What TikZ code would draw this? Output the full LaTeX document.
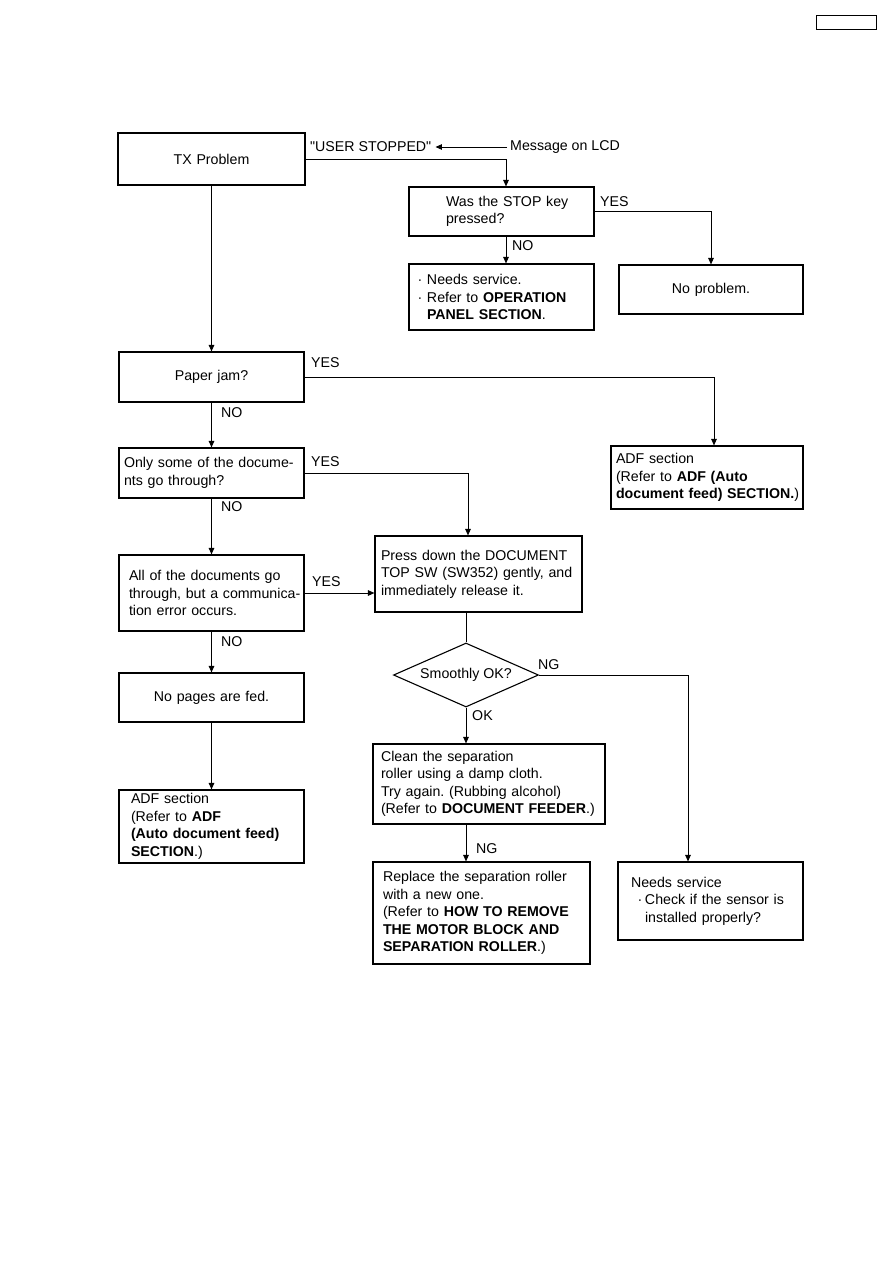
\documentclass[tikz,border=0pt]{standalone}
\usepackage{fontspec}
\setmainfont{Liberation Sans}
\usetikzlibrary{arrows.meta,shapes.geometric}
\frenchspacing
\begin{document}
\begin{tikzpicture}[x=1pt,y=-1pt,
  font=\fontsize{14.2}{17.5}\selectfont,
  box/.style={draw,line width=1.1pt,inner xsep=0pt,inner ysep=0pt,align=left},
  cbox/.style={box,align=center},
  conn/.style={line width=1pt},
  arr/.style={conn,-{Triangle[length=6.5pt,width=5.5pt]}},
  lbl/.style={anchor=west,inner sep=0pt}]
\useasboundingbox (0,0) rectangle (893,1263);

% tag box top right
\node[draw,line width=1pt,minimum width=60pt,minimum height=14pt,inner sep=0pt] (tag) at (846,23) {};

% boxes
\node[cbox,text width=187pt,minimum height=52pt] (tx) at (211.5,159) {TX Problem};
\node[lbl] (usr) at (310,147) {\textquotedbl USER STOPPED\textquotedbl};
\node[lbl] (msg) at (510,147) {Message on LCD};
\node[box,text width=185pt,minimum height=49pt] (stop) at (501.5,211.5)
  {\leftskip=37pt Was the STOP key\\pressed?\par};
\node[box,text width=185pt,minimum height=66pt] (ns1) at (501.5,297)
  {\leftskip=4pt \makebox[14pt][c]{·}Needs service.\\\makebox[14pt][c]{·}Refer to \textbf{OPERATION}\\\hspace*{14pt}\textbf{PANEL SECTION}.\par};
\node[cbox,text width=184pt,minimum height=49pt] (noprob) at (711,289.5) {No problem.};
\node[cbox,text width=185pt,minimum height=50pt] (pj) at (211.5,377) {Paper jam?};
\node[box,text width=192pt,minimum height=63pt] (adf1) at (707,477.5)
  {\leftskip=5pt ADF section\\(Refer to \textbf{ADF (Auto}\\\textbf{document feed) SECTION.})\par};
\node[box,text width=185pt,minimum height=50pt] (some) at (211.5,473)
  {\leftskip=5pt Only some of the docume-\\nts go through?\par};
\node[box,text width=185pt,minimum height=76pt] (all) at (211.5,593)
  {\leftskip=10pt All of the documents go\\through, but a communica-\\tion error occurs.\par};
\node[box,text width=207pt,minimum height=76pt] (press) at (478.5,574)
  {\leftskip=6pt Press down the DOCUMENT\\TOP SW (SW352) gently, and\\immediately release it.\par};
\node[cbox,text width=185pt,minimum height=49pt] (nopages) at (211.5,697.5) {No pages are fed.};
\node[box,text width=185pt,minimum height=73pt] (adf2) at (211.5,826.5)
  {\leftskip=12pt ADF section\\(Refer to \textbf{ADF}\\\textbf{(Auto document feed)}\\\textbf{SECTION}.)\par};
\node[draw,line width=1.1pt,shape=diamond,aspect=2.27,inner sep=0pt,minimum width=145pt,minimum height=64pt] (dia) at (466,675) {Smoothly OK?};
\node[box,text width=232pt,minimum height=80pt] (clean) at (489,784)
  {\leftskip=8pt Clean the separation\\roller using a damp cloth.\\Try again. (Rubbing alcohol)\\(Refer to \textbf{DOCUMENT FEEDER}.)\par};
\node[box,text width=217pt,minimum height=102pt] (replace) at (481.5,913)
  {\leftskip=10pt Replace the separation roller\\with a new one.\\(Refer to \textbf{HOW TO REMOVE}\\\textbf{THE MOTOR BLOCK AND}\\\textbf{SEPARATION ROLLER}.)\par};
\node[box,text width=185pt,minimum height=78pt] (ns2) at (710.5,901)
  {\leftskip=13pt Needs service\\\hspace*{4pt}\makebox[10pt][c]{·}Check if the sensor is\\\hspace*{14pt}installed properly?\par};

% labels
\node[lbl] (l1) at (600,202) {YES};
\node[lbl] (l2) at (512,246) {NO};
\node[lbl] (l3) at (311,363) {YES};
\node[lbl] (l4) at (221,413) {NO};
\node[lbl] (l5) at (311,462) {YES};
\node[lbl] (l6) at (221,507) {NO};
\node[lbl] (l7) at (312,582) {YES};
\node[lbl] (l8) at (221,642) {NO};
\node[lbl] (l9) at (538,665) {NG};
\node[lbl] (l10) at (472,716) {OK};
\node[lbl] (l11) at (476,849) {NG};

% connectors
\draw[arr] ([xshift=-3pt]msg.west) -- ([xshift=4pt]usr.east);
\draw[arr] (tx.east) -| ([xshift=4.5pt]stop.north);
\draw[arr] (stop.east) -| (noprob.north);
\draw[arr] ([xshift=4.5pt]stop.south) -- ([xshift=4.5pt]stop.south |- ns1.north);
\draw[arr] (tx.south) -- (pj.north);
\draw[arr] (pj.east) -| ([xshift=7pt]adf1.north);
\draw[arr] (pj.south) -- (some.north);
\draw[arr] (some.east) -| ([xshift=-10.5pt]press.north);
\draw[arr] (some.south) -- (all.north);
\draw[arr] (all.east) -- (all.east -| press.west);
\draw[arr] (all.south) -- (nopages.north);
\draw[arr] (nopages.south) -- (adf2.north);
\draw[conn] ([xshift=-12.5pt]press.south) -- (dia.north);
\draw[arr] (dia.east) -| ([xshift=-22.5pt]ns2.north);
\draw[arr] (dia.south) -- (dia.south |- clean.north);
\draw[arr] (dia.south |- clean.south) -- (dia.south |- replace.north);
\end{tikzpicture}
\end{document}
